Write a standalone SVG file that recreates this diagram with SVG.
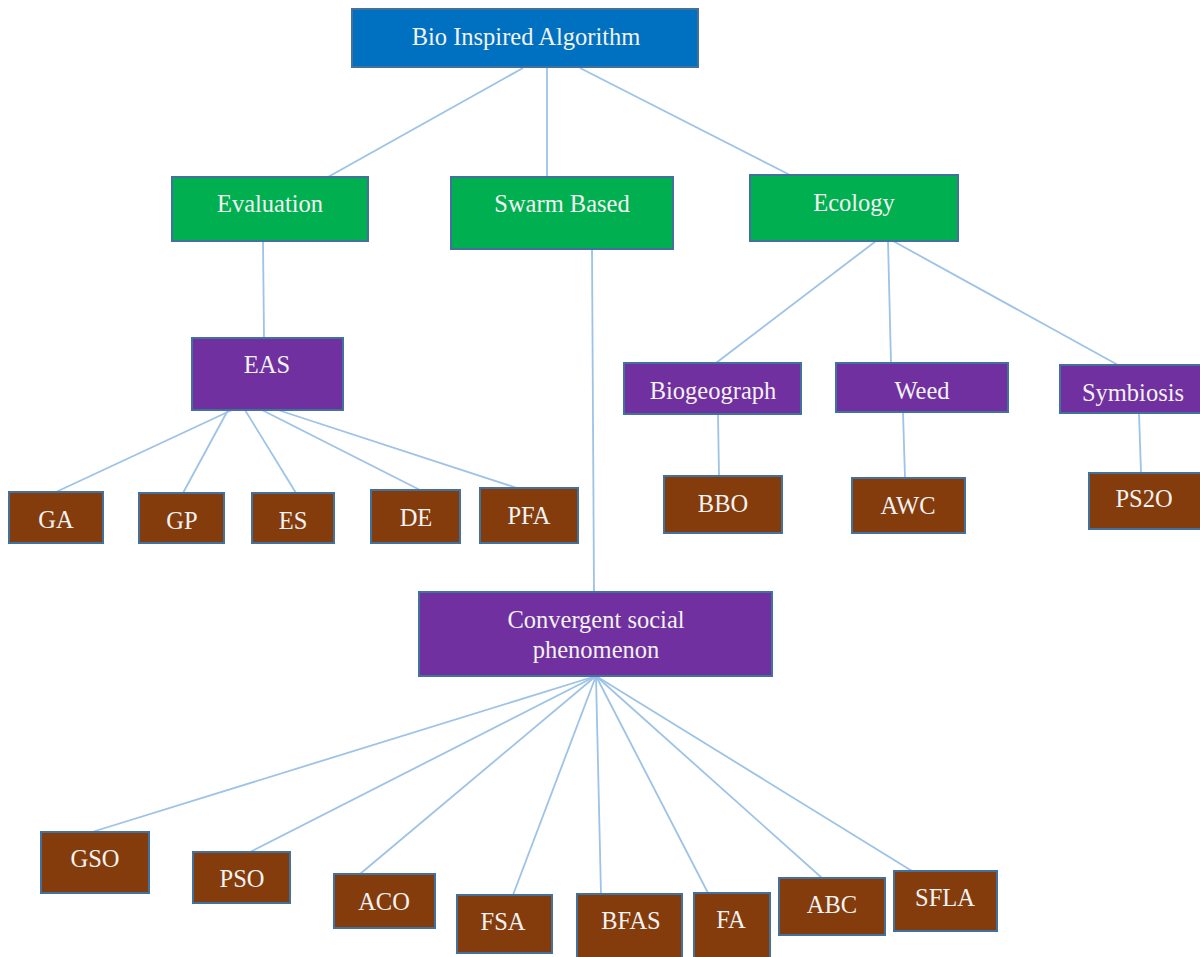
<svg xmlns="http://www.w3.org/2000/svg" width="1200" height="957" viewBox="0 0 1200 957">
<style>
.box{stroke:#41719C;stroke-width:2}
.blue{fill:#0070C0}
.green{fill:#00B050}
.purple{fill:#7030A0}
.brown{fill:#843C0C}
text{font-family:"Liberation Serif","Times New Roman",serif;font-size:24.5px;fill:#F2F2F2;text-anchor:middle;dominant-baseline:central}
.conn line{stroke:#9DC3E6;stroke-width:1.8}
</style>
<rect width="1200" height="957" fill="#fff"/>
<g class="conn" id="connectors">
<line x1="523" y1="68" x2="328" y2="177"/>
<line x1="547" y1="68" x2="547" y2="177"/>
<line x1="580" y1="68" x2="790" y2="175"/>
<line x1="263" y1="241" x2="264" y2="338"/>
<line x1="592" y1="249" x2="594" y2="592"/>
<line x1="876" y1="241" x2="716" y2="363"/>
<line x1="888" y1="241" x2="891" y2="363"/>
<line x1="893" y1="241" x2="1118" y2="365"/>
<line x1="232" y1="410" x2="56" y2="492"/>
<line x1="228" y1="410" x2="183" y2="493"/>
<line x1="245" y1="410" x2="296" y2="493"/>
<line x1="262" y1="410" x2="420" y2="490"/>
<line x1="278" y1="410" x2="517" y2="488"/>
<line x1="718" y1="414" x2="719" y2="476"/>
<line x1="903" y1="412" x2="905" y2="478"/>
<line x1="1139" y1="413" x2="1141" y2="473"/>
<line x1="596" y1="676" x2="92" y2="832"/>
<line x1="596" y1="676" x2="250" y2="852"/>
<line x1="596" y1="676" x2="360" y2="874"/>
<line x1="596" y1="676" x2="513" y2="895"/>
<line x1="596" y1="676" x2="601" y2="895"/>
<line x1="596" y1="676" x2="708" y2="893"/>
<line x1="596" y1="676" x2="822" y2="878"/>
<line x1="596" y1="676" x2="912" y2="871"/>
</g>
<g id="bio"><rect class="box blue" x="352" y="9" width="346" height="58"/><text x="526" y="36">Bio Inspired Algorithm</text></g>
<g id="evaluation"><rect class="box green" x="172" y="177" width="196" height="64"/><text x="270" y="203">Evaluation</text></g>
<g id="swarm"><rect class="box green" x="451" y="177" width="222" height="72"/><text x="562" y="203">Swarm Based</text></g>
<g id="ecology"><rect class="box green" x="750" y="175" width="208" height="66"/><text x="854" y="202">Ecology</text></g>
<g id="eas"><rect class="box purple" x="192" y="338" width="151" height="72"/><text x="267" y="364">EAS</text></g>
<g id="biogeograph"><rect class="box purple" x="624" y="363" width="177" height="51"/><text x="713" y="390">Biogeograph</text></g>
<g id="weed"><rect class="box purple" x="836" y="363" width="172" height="49"/><text x="922" y="390">Weed</text></g>
<g id="symbiosis"><rect class="box purple" x="1060" y="365" width="142" height="48"/><text x="1133" y="392">Symbiosis</text></g>
<g id="ga"><rect class="box brown" x="9" y="492" width="94" height="51"/><text x="56" y="519">GA</text></g>
<g id="gp"><rect class="box brown" x="139" y="493" width="85" height="50"/><text x="182" y="520">GP</text></g>
<g id="es"><rect class="box brown" x="252" y="493" width="82" height="50"/><text x="293" y="520">ES</text></g>
<g id="de"><rect class="box brown" x="371" y="490" width="89" height="53"/><text x="416" y="517">DE</text></g>
<g id="pfa"><rect class="box brown" x="480" y="488" width="98" height="55"/><text x="529" y="515">PFA</text></g>
<g id="bbo"><rect class="box brown" x="664" y="476" width="118" height="57"/><text x="723" y="503">BBO</text></g>
<g id="awc"><rect class="box brown" x="852" y="478" width="113" height="55"/><text x="908" y="505">AWC</text></g>
<g id="ps2o"><rect class="box brown" x="1089" y="473" width="113" height="56"/><text x="1144" y="498">PS2O</text></g>
<g id="convergent"><rect class="box purple" x="419" y="592" width="353" height="84"/><text x="596" y="619">Convergent social</text><text x="596" y="649">phenomenon</text></g>
<g id="gso"><rect class="box brown" x="41" y="832" width="108" height="61"/><text x="95" y="858">GSO</text></g>
<g id="pso"><rect class="box brown" x="193" y="852" width="97" height="51"/><text x="242" y="878">PSO</text></g>
<g id="aco"><rect class="box brown" x="334" y="874" width="101" height="54"/><text x="384" y="901">ACO</text></g>
<g id="fsa"><rect class="box brown" x="457" y="895" width="95" height="58"/><text x="503" y="921">FSA</text></g>
<g id="bfas"><rect class="box brown" x="577" y="894" width="105" height="70"/><text x="631" y="920">BFAS</text></g>
<g id="fa"><rect class="box brown" x="694" y="893" width="76" height="70"/><text x="731" y="919">FA</text></g>
<g id="abc"><rect class="box brown" x="779" y="878" width="106" height="57"/><text x="832" y="904">ABC</text></g>
<g id="sfla"><rect class="box brown" x="894" y="871" width="103" height="60"/><text x="945" y="897">SFLA</text></g>
</svg>
